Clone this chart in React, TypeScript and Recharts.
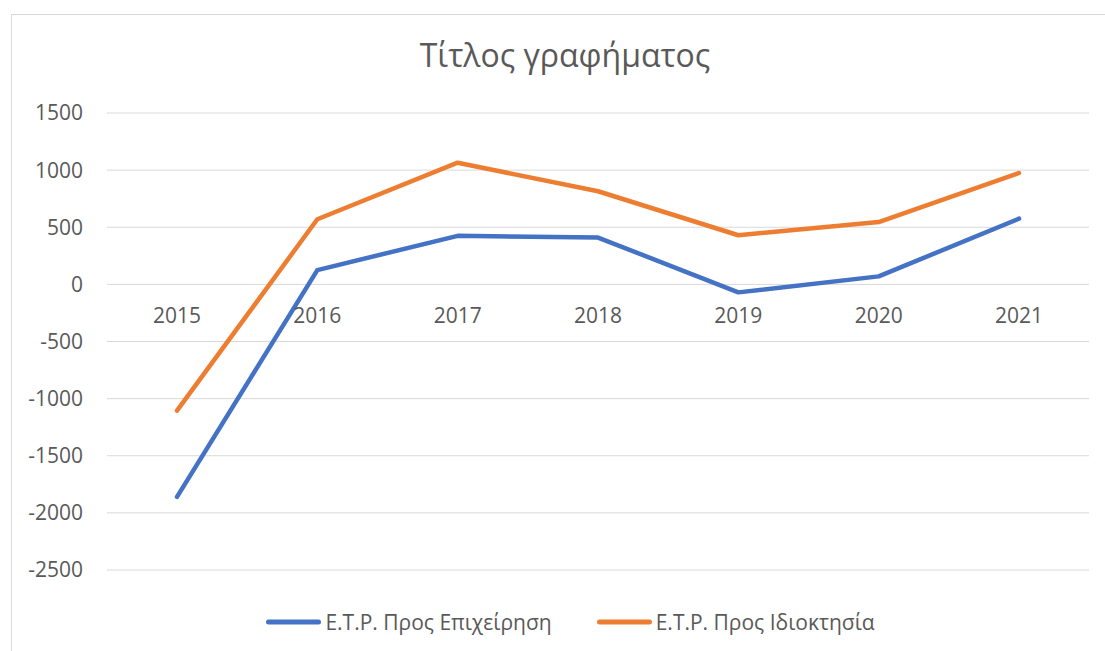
import React from 'react';
import { LineChart, Line, XAxis, YAxis, CartesianGrid, Legend } from 'recharts';

const years = ['2015', '2016', '2017', '2018', '2019', '2020', '2021'];
const businessValues = [-1860, 125, 425, 410, -70, 70, 575];
const ownershipValues = [-1105, 570, 1065, 815, 430, 545, 975];
const yTicks = [-2500, -2000, -1500, -1000, -500, 0, 500, 1000, 1500];
const seriesNames = ['Ε.Τ.Ρ. Προς Επιχείρηση', 'Ε.Τ.Ρ. Προς Ιδιοκτησία'];
const seriesColors = ['#4472C4', '#ED7D31'];
const chartTitle = 'Τίτλος γραφήματος';

const data = years.map((y, i) => ({
  year: y,
  business: businessValues[i],
  ownership: ownershipValues[i],
}));

const W = 1105;
const H = 651;
const PLOT_TOP = 113;
const PLOT_BOTTOM = 570;
const PLOT_LEFT = 107;
const PLOT_RIGHT = 1089;
const Y_AXIS_W = 80;
const X_AXIS_H = 30;
const Y_MIN = -2500;
const Y_MAX = 1500;
const zeroY = PLOT_TOP + ((Y_MAX - 0) / (Y_MAX - Y_MIN)) * (PLOT_BOTTOM - PLOT_TOP);

const FONT = '"Open Sans", sans-serif';
const TEXT = '#595959';

const XTick = (props: any) => {
  const { x, payload } = props;
  return (
    <text x={x} y={zeroY + 39} textAnchor="middle" fill={TEXT} fontSize={21} fontFamily={FONT}>
      {payload.value}
    </text>
  );
};

const LegendContent = (props: any) => {
  const { payload } = props;
  return (
    <div
      style={{
        display: 'flex',
        justifyContent: 'center',
        alignItems: 'center',
        fontFamily: FONT,
        fontSize: 21,
        color: TEXT,
      }}
    >
      {(payload || []).map((p: any, i: number) => (
        <div key={i} style={{ display: 'flex', alignItems: 'center', marginLeft: i ? 45 : 0 }}>
          <svg width={55} height={10} style={{ display: 'block' }}>
            <line x1={2.5} y1={5} x2={52.5} y2={5} stroke={p.color} strokeWidth={5} strokeLinecap="round" />
          </svg>
          <span style={{ marginLeft: 4, whiteSpace: 'nowrap' }}>{p.value}</span>
        </div>
      ))}
    </div>
  );
};

export default function App() {
  return (
    <div
      style={{
        position: 'absolute',
        left: 0,
        top: 0,
        width: W,
        height: H,
        overflow: 'hidden',
        background: '#fff',
      }}
    >
      <div
        style={{
          position: 'absolute',
          left: 11,
          top: 14,
          width: 1110,
          height: 700,
          border: '1px solid #d9d9d9',
          boxSizing: 'border-box',
        }}
      />
      <div
        style={{
          position: 'absolute',
          left: 0,
          top: 39,
          width: 1130,
          textAlign: 'center',
          fontFamily: FONT,
          fontSize: 32,
          lineHeight: '32px',
          color: TEXT,
          whiteSpace: 'nowrap',
        }}
      >
        {chartTitle}
      </div>
      <div style={{ position: 'absolute', left: 0, top: 0 }}>
        <LineChart
          width={W}
          height={H}
          data={data}
          margin={{
            top: PLOT_TOP,
            right: W - PLOT_RIGHT,
            left: PLOT_LEFT - Y_AXIS_W,
            bottom: H - PLOT_BOTTOM - X_AXIS_H,
          }}
        >
          <CartesianGrid horizontal vertical={false} stroke="#d9d9d9" strokeWidth={1} />
          <XAxis
            dataKey="year"
            padding={{ left: 70, right: 70 }}
            axisLine={false}
            tickLine={false}
            height={X_AXIS_H}
            interval={0}
            tick={<XTick />}
          />
          <YAxis
            width={Y_AXIS_W}
            domain={[Y_MIN, Y_MAX]}
            ticks={yTicks}
            interval={0}
            axisLine={false}
            tickLine={false}
            tickSize={0}
            tickMargin={24}
            tick={{ fill: TEXT, fontSize: 21, fontFamily: FONT }}
          />
          <Legend
            layout="horizontal"
            verticalAlign="middle"
            align="center"
            wrapperStyle={{ top: 608, left: 0, width: 1141, height: 28 }}
            content={<LegendContent />}
          />
          <Line
            type="linear"
            dataKey="business"
            name={seriesNames[0]}
            stroke={seriesColors[0]}
            strokeWidth={4.5}
            strokeLinecap="round"
            strokeLinejoin="round"
            dot={false}
            activeDot={false}
            isAnimationActive={false}
          />
          <Line
            type="linear"
            dataKey="ownership"
            name={seriesNames[1]}
            stroke={seriesColors[1]}
            strokeWidth={4.5}
            strokeLinecap="round"
            strokeLinejoin="round"
            dot={false}
            activeDot={false}
            isAnimationActive={false}
          />
        </LineChart>
      </div>
    </div>
  );
}
